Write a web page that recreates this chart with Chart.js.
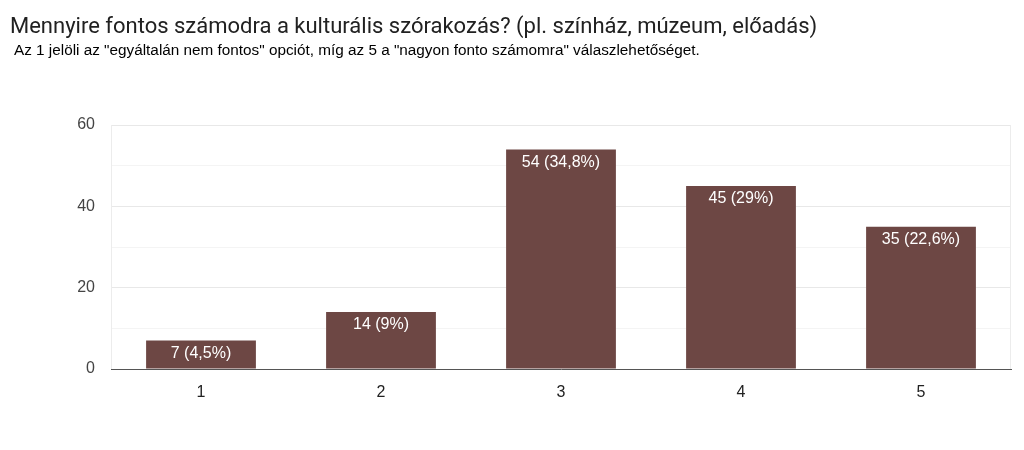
<!DOCTYPE html>
<html>
<head>
<meta charset="utf-8">
<script src="https://cdn.jsdelivr.net/npm/chart.js@4/dist/chart.umd.min.js"></script>
<style>
  body { margin: 0; background: #fff; }
  #wrap { position: relative; width: 1024px; height: 450px; }
  #title { position: absolute; left: 10px; top: 15px; font: 22px/1 Roboto, Arial, sans-serif; color: #212121; white-space: nowrap; }
  #sub { position: absolute; left: 14px; top: 42px; font: 15.3px/1 "Liberation Sans", Arial, sans-serif; color: #000; white-space: nowrap; }
  canvas { position: absolute; left: 0; top: 0; }
</style>
</head>
<body>
<div id="wrap">
  <canvas id="chart" width="1024" height="450"></canvas>
  <div id="title">Mennyire fontos számodra a kulturális szórakozás? (pl. színház, múzeum, előadás)</div>
  <div id="sub">Az 1 jelöli az "egyáltalán nem fontos" opciót, míg az 5 a "nagyon fonto számomra" válaszlehetőséget.</div>
</div>
<script>
(function () {
    'use strict';

    var categories = ['1', '2', '3', '4', '5'];
    var counts = [7, 14, 54, 45, 35];
    var percents = ['4,5%', '9%', '34,8%', '29%', '22,6%'];

    var barLabels = {
        id: 'barLabels',
        afterDatasetsDraw: function (chart) {
            var ctx = chart.ctx;
            var meta = chart.getDatasetMeta(0);
            ctx.save();
            ctx.fillStyle = '#ffffff';
            ctx.font = '16px "Liberation Sans", Arial, sans-serif';
            ctx.textAlign = 'center';
            ctx.textBaseline = 'middle';
            meta.data.forEach(function (bar, i) {
                ctx.fillText(counts[i] + ' (' + percents[i] + ')', bar.x, bar.y + 13);
            });
            ctx.restore();
        }
    };

    var chartEdges = {
        id: 'chartEdges',
        beforeDatasetsDraw: function (chart) {
            var a = chart.chartArea;
            var ctx = chart.ctx;
            ctx.save();
            ctx.strokeStyle = '#ececec';
            ctx.lineWidth = 1;
            ctx.beginPath();
            ctx.moveTo(a.left + 0.5, a.top);
            ctx.lineTo(a.left + 0.5, a.bottom);
            ctx.moveTo(a.right - 0.5, a.top);
            ctx.lineTo(a.right - 0.5, a.bottom);
            ctx.stroke();
            ctx.restore();
        }
    };

    new Chart(document.getElementById('chart'), {
        type: 'bar',
        data: {
            labels: categories,
            datasets: [{
                data: counts,
                backgroundColor: '#6d4744',
                barPercentage: 0.61,
                categoryPercentage: 1
            }]
        },
        options: {
            responsive: false,
            animation: false,
            layout: { padding: { top: 125, right: 13, left: 0, bottom: 0 } },
            plugins: { legend: { display: false }, tooltip: { enabled: false } },
            scales: {
                x: {
                    grid: { display: false },
                    border: { color: '#555555', width: 1 },
                    ticks: { color: '#222', font: { size: 16, family: '"Liberation Sans", Arial, sans-serif' }, padding: 6 },
                    afterFit: function (s) { s.height = 81; }
                },
                y: {
                    min: 0,
                    max: 60,
                    border: { display: false },
                    grid: {
                        color: function (c) { return c.tick.value % 20 === 0 ? '#e8e8e8' : '#f4f4f4'; },
                        drawTicks: false
                    },
                    ticks: {
                        stepSize: 10,
                        color: '#444',
                        font: { size: 16, family: '"Liberation Sans", Arial, sans-serif' },
                        padding: 16,
                        callback: function (v) { return v % 20 === 0 ? v : ''; }
                    },
                    afterFit: function (s) { s.width = 111; }
                }
            }
        },
        plugins: [barLabels, chartEdges]
    });
})();
</script>
</body>
</html>
